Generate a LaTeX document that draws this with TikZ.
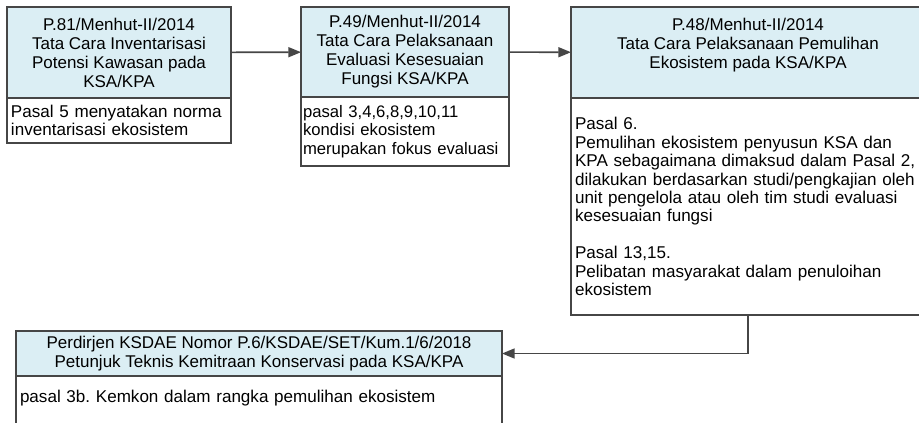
\documentclass[tikz,border=0pt]{standalone}
\usepackage{xcolor}
\usepackage{fontspec}
\setmainfont{Liberation Sans}
\usetikzlibrary{arrows.meta,positioning}

\definecolor{headblue}{RGB}{219,238,244}
\definecolor{linegray}{RGB}{70,70,70}
\newcommand{\pxl}{0.75pt}
\frenchspacing

\begin{document}
\begin{tikzpicture}[x=0.75pt,y=-0.75pt,node distance=0pt,>={Triangle[length=9.5pt,width=7.5pt]}]
	\tikzstyle{head}=[draw=linegray,line width=1.2pt,fill=headblue,outer sep=0pt,inner sep=0pt,align=center,font=\fontsize{12.75}{14.25}\selectfont]
	\tikzstyle{body}=[draw=linegray,line width=1.2pt,fill=white,outer sep=0pt,inner xsep=3pt,inner ysep=0pt,align=left,font=\fontsize{12.8}{13.8}\selectfont]
	\tikzstyle{link}=[draw=linegray,line width=1.2pt,->]

	\clip (0,0) rectangle (919,422);
	\fill[white] (0,0) rectangle (919,422);

	% top row
	\node[head,anchor=north west,minimum width=224*\pxl,minimum height=91*\pxl] (p81) at (7,7)
		{P.81/Menhut-II/2014\\Tata Cara Inventarisasi\\Potensi Kawasan pada\\KSA/KPA};
	\node[body,below=of p81,minimum width=224*\pxl,minimum height=45*\pxl,text width=162pt] (p81b)
		{Pasal 5 menyatakan norma\\inventarisasi ekosistem};

	\node[head,anchor=north west,minimum width=208*\pxl,minimum height=90*\pxl] (p49) at (301,7)
		{P.49/Menhut-II/2014\\Tata Cara Pelaksanaan\\Evaluasi Kesesuaian\\Fungsi KSA/KPA};
	\node[body,below=of p49,minimum width=208*\pxl,minimum height=69*\pxl,inner xsep=1.5pt,text width=153pt,font=\fontsize{12.5}{13.8}\selectfont] (p49b)
		{pasal 3,4,6,8,9,10,11\\kondisi ekosistem\\merupakan fokus evaluasi};

	\node[head,anchor=north west,minimum width=354*\pxl,minimum height=91*\pxl] (p48) at (571,7)
		{P.48/Menhut-II/2014\\Tata Cara Pelaksanaan Pemulihan\\Ekosistem pada KSA/KPA\\~};
	\node[body,below=of p48,minimum width=354*\pxl,minimum height=217*\pxl,text width=259.5pt] (p48b)
		{Pasal 6.\\Pemulihan ekosistem penyusun KSA dan\\KPA sebagaimana dimaksud dalam Pasal 2,\\dilakukan berdasarkan studi/pengkajian oleh\\unit pengelola atau oleh tim studi evaluasi\\kesesuaian fungsi\\[13.8pt]Pasal 13,15.\\Pelibatan masyarakat dalam penuloihan\\ekosistem};

	% bottom row
	\node[head,anchor=north west,minimum width=486*\pxl,minimum height=45*\pxl] (kemitraan) at (16,331)
		{Perdirjen KSDAE Nomor P.6/KSDAE/SET/Kum.1/6/2018\\Petunjuk Teknis Kemitraan Konservasi pada KSA/KPA};
	\node[body,below=of kemitraan,minimum width=486*\pxl,minimum height=60*\pxl,text width=358.5pt] (kemitraanb)
		{pasal 3b. Kemkon dalam rangka pemulihan ekosistem\\~};

	\path[link] (p81) -- (p49);
	\path[link] (p49) -- (p48);
	\path[link] (p48b.south) |- (kemitraan.east);
\end{tikzpicture}
\end{document}
